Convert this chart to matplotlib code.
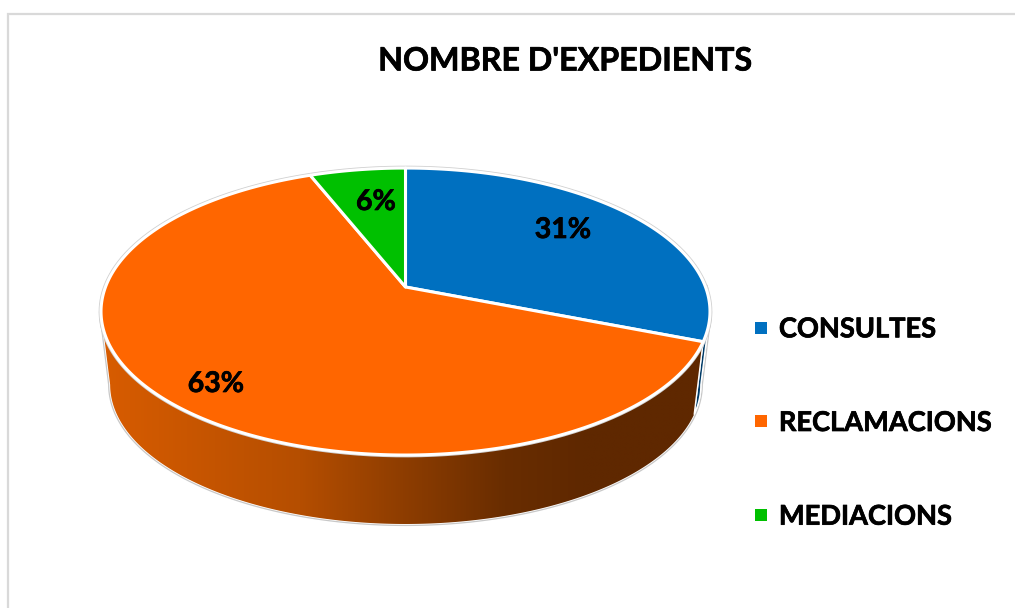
import numpy as np
import matplotlib
matplotlib.use("Agg")
import matplotlib.pyplot as plt
import matplotlib.patheffects as pe
from matplotlib.colors import LinearSegmentedColormap
from matplotlib.lines import Line2D
from matplotlib.patches import Polygon

title = "NOMBRE D'EXPEDIENTS"
categories = ["CONSULTES", "RECLAMACIONS", "MEDIACIONS"]
values = [31, 63, 6]
colors = ["#0070C0", "#FF6600", "#00C000"]

FONT = "Lato"
W, H = 1015, 608
CX, CY = 405.5, 287.0      # pie centre on the top face, pixels
A, B, K = 300.0, 139.3, 0.171   # perspective of the disc
DEPTH, SHRINK = 74.0, 0.97      # lower rim offset and scale
HEAVY = [pe.withStroke(linewidth=0.5, foreground="black")]


def rim(theta, lower=False):
    """Project disc angle(s) to pixels, theta in radians, counter-clockwise."""
    x, y = np.cos(theta), np.sin(theta)
    d = 1 + K * y
    s, dy = (SHRINK, DEPTH) if lower else (1.0, 0.0)
    return CX + s * A * x / d, CY + dy - s * B * y / d


fig = plt.figure(figsize=(W / 100, H / 100), dpi=100, facecolor="white")
ax = fig.add_axes([0, 0, 1, 1])
ax.set_axis_off()

# chart frame (left and top edge only are visible)
ax.plot([8, 8, W], [H, 14, 14], color="#D9D9D9", lw=1.6, solid_joinstyle="miter", zorder=1)

# wedge angles, clockwise from the top
frac = np.array(values, float) / sum(values)
edges = np.pi / 2 - 2 * np.pi * np.concatenate([[0], np.cumsum(frac)])

# side wall: runs between the widest points of the disc ----------------
wall_end = edges[1]
t_left, t_right = -np.pi + np.arcsin(K), -np.arcsin(K)
wall_t = np.linspace(t_left, t_right, 400)
tx, ty = rim(wall_t)
bx, by = rim(wall_t, lower=True)
sil = np.column_stack([np.r_[tx, bx[::-1]], np.r_[ty, by[::-1]]])
ax.add_patch(Polygon(sil, closed=True, fc="#C8C8C8", ec="#C8C8C8", lw=3.0, zorder=2))
ax.add_patch(Polygon(sil, closed=True, fc="white", ec="white", lw=1.2, zorder=2.1))

# blue part of the wall
t_blue = np.linspace(wall_end, t_right, 100)
bt = np.column_stack([*rim(t_blue)])
bb = np.column_stack([*rim(t_blue, lower=True)])
ax.add_patch(Polygon(np.r_[bt, bb[::-1]], closed=True, fc="#003A66", ec="white", lw=1.0, zorder=2.5))

# orange part of the wall, shaded from left to right
t_or = np.linspace(t_left, wall_end, 400)
ot = np.column_stack([*rim(t_or)])
ob = np.column_stack([*rim(t_or, lower=True)])
clip = Polygon(np.r_[ot, ob[::-1]], closed=True, transform=ax.transData, fc="none", ec="none")
ax.add_patch(clip)
shade = LinearSegmentedColormap.from_list(
    "wall",
    [(0.0, "#D85C00"), (0.33, "#B54E00"), (0.5, "#8E3D00"),
     (0.67, "#692D00"), (0.8, "#5F2800"), (1.0, "#5F2800")],
)
im = ax.imshow(np.linspace(0, 1, 512)[None, :], extent=(100, 705, 540, 300), cmap=shade,
               aspect="auto", zorder=3, interpolation="bilinear")
im.set_clip_path(clip)
sx = [rim(wall_end)[0], rim(wall_end, lower=True)[0]]
sy = [rim(wall_end)[1], rim(wall_end, lower=True)[1]]
ax.plot(sx, sy, color="white", lw=1.0, zorder=3.2)

# top face -------------------------------------------------------------
full = np.linspace(0, 2 * np.pi, 721)
ex, ey = rim(full)
ax.plot(ex, ey, color="#D0D0D0", lw=3.4, zorder=3.5)
for i, c in enumerate(colors):
    t = np.linspace(edges[i], edges[i + 1], 300)
    px, py = rim(t)
    pts = np.column_stack([np.r_[CX, px], np.r_[CY, py]])
    ax.add_patch(Polygon(pts, closed=True, fc=c, ec="white", lw=2.2,
                         joinstyle="round", zorder=4))

# percentage labels
label_xy = [(563, 230), (216, 384), (376, 202)]
for v, (lx, ly) in zip(values, label_xy):
    ax.text(lx, ly, f"{v}%", ha="center", va="center", fontsize=20.5,
            fontweight="bold", family=FONT, color="black", zorder=5, path_effects=HEAVY)

ax.text(565.5, 61, title, ha="center", va="center", fontsize=23.2,
        fontweight="bold", family=FONT, color="black", zorder=5, path_effects=HEAVY)

handles = [Line2D([], [], ls="none", marker="s", ms=9.2, mfc=c, mec=c, mew=0) for c in colors]
leg = ax.legend(handles, categories, loc="center left", bbox_to_anchor=(750.6, 423),
                bbox_transform=ax.transData, frameon=False, borderpad=0, borderaxespad=0,
                handlelength=0.8, handletextpad=0.24, labelspacing=2.56,
                prop={"family": FONT, "weight": "bold", "size": 19.6})
for txt in leg.get_texts():
    txt.set_path_effects(HEAVY)

ax.set_xlim(0, W)
ax.set_ylim(H, 0)
fig.savefig("out.png", dpi=100, facecolor="white")
